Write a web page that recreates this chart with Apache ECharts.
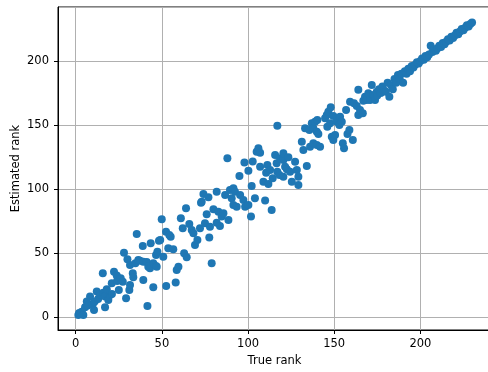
<!DOCTYPE html>
<html>
<head>
<meta charset="utf-8">
<script src="https://cdn.jsdelivr.net/npm/echarts@6/dist/echarts.min.js"></script>
<style>
html,body{margin:0;padding:0;background:#fff;}
#chart{width:488px;height:372px;}
</style>
</head>
<body>
<div id="chart"></div>
<script>
// True rank (x) and estimated rank (y)
const trueRank = [
  1.5,2,3.5,4.4,5.4,6.4,7,8.3,9.9,10.6,11,12.2,13,14.1,15.7,16,17,17,18,18.9,
  19.9,20.9,21,22.2,23.8,24,25,26.1,27.3,28,29.2,30,31.1,31.5,31.5,33.1,33.4,34.6,35.4,36.3,
  37.3,38.9,39.2,39.2,41.2,41.6,42.1,43.1,43.5,45,45,46.6,46.6,47,47.4,48.3,49,49.9,50.8,52.4,
  52.5,53.7,54.3,55.1,56.6,58,58.6,59.6,61,62.1,62.9,64,64.4,65.9,67.3,68.3,69.2,70.6,72.1,72.7,
  73.1,74.1,75,76,77,77.5,77.9,78.9,79.9,81.8,81.8,82.8,83.7,84.7,85.7,86.7,88,88.6,89.5,90.5,
  91.5,91.5,92.4,93.4,95,95.4,97.3,97.9,98.3,100.2,100.2,101.7,102.1,102.7,104,105,106,107,107,108.9,
  109.9,110.5,111.2,111.8,112.8,113.7,114.3,115.7,116.6,117,117,118.2,118.6,120.5,120.5,120.5,121.5,122.5,123.4,124.4,
  125.4,127.3,128.3,129.2,129.2,131.2,132.1,133.1,134.1,135.6,136,137,137.9,137.9,138.9,139.9,139.9,140.2,140.8,141.8,
  144.7,145.7,146,146.6,147.6,148,148.6,149.5,149.5,150.5,151.5,153,153.4,154.4,155,155.7,156.9,157.7,158.8,159.2,
  160.8,161.5,163.1,164,164,165,166.6,166.9,167.9,168.9,169.8,170.8,171.8,172.7,173.7,174.7,
  175,176,177,178,179,180,181,182,183,184,185,186,187,188,189,190,191,192,193,194,
  195,196,197,198,199,200,201,202,203,204,205,206,207,208,209,210,211,212,213,214,
  215,216,217,218,219,220,221,222,223,224,225,226,227,228,229,230
];
const estRank = [
  1.6,3,4.1,1.6,7.6,12,9,15.9,10.2,5.5,12,19.8,14,17.2,34.1,19,15.9,7.6,21.6,13.3,
  17.2,26.3,18,35.4,32.3,28,21,30.2,27.6,50.2,14.6,45,21,25,40.6,34.1,31,42,64.8,44.5,
  44,55.5,28.9,43.2,43,8.6,39.3,38,57.6,23.2,42,39.8,48.4,39.3,51,59.6,60.2,76.3,47.1,66.6,
  24.2,53.7,64.1,62.7,52.9,27,36.7,39.3,77.1,69.3,49.7,84.9,46.6,72.7,68,65.4,56.3,60.2,69.3,89.3,
  90,96.1,73.2,80.2,93.5,62,70.5,41.9,84.1,97.9,73.7,82.3,71.1,78.4,81,95.3,124,75.8,99.2,92.7,
  100.5,87.5,97.9,86.2,110.2,95.3,91.4,120.6,86.2,87.5,114.3,78.4,102.3,121.4,92.7,129.1,131.8,128.4,117.4,105.7,
  90.9,112.7,118.8,103.9,114.8,83.6,108.4,126.6,120.1,149.5,113.5,110.9,124,109.6,122.7,127.9,117.4,115.4,124.8,113.5,
  105.7,121.3,114.8,103.1,109.6,137,130.5,147.4,118,146.1,133,151.3,135.7,147.4,152.6,144.8,134.4,153.9,143,133,
  155.2,157.8,148.7,160.4,151.3,163.8,140.9,157,138.3,142.2,152.6,150,156.5,152.6,135.7,131.8,161.7,143,146.1,168.2,
  138.3,167,164.8,157.8,177.5,161.7,159.1,169,172.1,169.5,174.8,169.5,181.3,173.4,169.5,176,
  173,178,175,180,177,176,183,172,181,178,186,183,189,186,190,183,192,190,194,192,
  196,195,197,199,198,200,202,201,204,203,205,212,207,209,208,210,212,211,214,213,
  215,217,216,219,218,220,222,221,223,225,224,226,228,227,229,230
];
const xTitle = 'True rank';
const yTitle = 'Estimated rank';

const points = trueRank.map((x, i) => [x, estRank[i]]);
const font = 'DejaVu Sans';

const chart = echarts.init(document.getElementById('chart'), null, {renderer: 'canvas'});
chart.setOption({
  animation: false,
  backgroundColor: '#ffffff',
  grid: {left: 58, right: -3, top: 7, bottom: 42, containLabel: false, outerBoundsMode: 'none',
         show: true, borderColor: '#000', borderWidth: 1, backgroundColor: 'transparent'},
  xAxis: {
    type: 'value', min: -10.3, max: 241, splitNumber: 5,
    name: xTitle, nameLocation: 'middle', nameGap: 25, nameMoveOverlap: false,
    nameTextStyle: {fontFamily: font, fontSize: 11.5, color: '#000'},
    axisLine: {show: true, onZero: false, lineStyle: {color: '#000', width: 1}},
    axisTick: {show: true, length: 4, lineStyle: {color: '#000'}},
    axisLabel: {fontFamily: font, fontSize: 11.5, color: '#000', margin: 8, showMinLabel: false, showMaxLabel: false},
    splitLine: {show: true, lineStyle: {color: '#b0b0b0', width: 1}}
  },
  yAxis: {
    type: 'value', min: -10.2, max: 242.2, splitNumber: 5,
    name: yTitle, nameLocation: 'middle', nameGap: 36, nameRotate: 90, nameMoveOverlap: false,
    nameTextStyle: {fontFamily: font, fontSize: 11.5, color: '#000'},
    axisLine: {show: true, onZero: false, lineStyle: {color: '#000', width: 1}},
    axisTick: {show: true, length: 4, lineStyle: {color: '#000'}},
    axisLabel: {fontFamily: font, fontSize: 11.5, color: '#000', margin: 9, showMinLabel: false, showMaxLabel: false},
    splitLine: {show: true, lineStyle: {color: '#b0b0b0', width: 1}}
  },
  series: [{
    type: 'scatter',
    data: points,
    symbol: 'circle',
    symbolSize: 8,
    itemStyle: {color: '#1f77b4', opacity: 1},
    emphasis: {disabled: true}
  }]
});
</script>
</body>
</html>
